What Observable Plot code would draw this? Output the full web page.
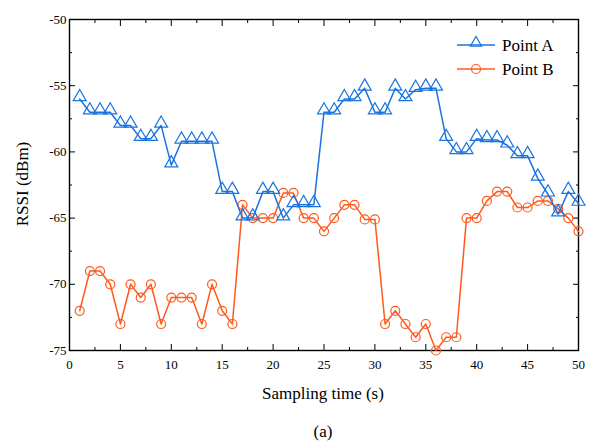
<!DOCTYPE html>
<html>
<head>
<meta charset="utf-8">
<script src="https://cdn.jsdelivr.net/npm/d3@7"></script>
<script src="https://cdn.jsdelivr.net/npm/@observablehq/plot@0.6"></script>
<style>
  html, body { margin: 0; padding: 0; background: #fff; }
  #chart { position: relative; width: 593px; height: 441px; }
  #chart svg text { font-family: 'Liberation Serif', 'Times New Roman', serif !important; }
</style>
</head>
<body>
<div id="chart"></div>
<script>
const seconds = d3.range(1, 51);
const pointA = [
  -56, -57, -57, -57, -58, -58, -59, -59, -58, -61,
  -59.2, -59.2, -59.2, -59.2, -63, -63, -65, -65, -63, -63,
  -65, -64, -64, -64, -57, -57, -56, -56, -55.2, -57,
  -57, -55.2, -56, -55.3, -55.2, -55.2, -59, -60, -60, -59,
  -59.1, -59.1, -59.5, -60.3, -60.3, -62, -63.2, -64.7, -63, -63.9
];
const pointB = [
  -72, -69, -69, -70, -73, -70, -71, -70, -73, -71,
  -71, -71, -73, -70, -72, -73, -64, -65, -65, -65,
  -63.1, -63.1, -65, -65, -66, -65, -64, -64, -65.1, -65.1,
  -73, -72, -73, -74, -73, -75, -74, -74, -65, -65,
  -63.7, -63, -63, -64.2, -64.2, -63.7, -63.7, -64.3, -65, -66
];
const seriesNames = ["Point A", "Point B"];
const seriesColors = ["#1a74e0", "#ff5a1c"];
const xMajor = d3.range(0, 51, 5);
const xMinor = d3.range(2.5, 50, 5);
const yMajor = d3.range(-75, -49, 5);
const yMinor = d3.range(-72.5, -50, 5);
const xTitle = "Sampling time (s)";
const yTitle = "RSSI (dBm)";
const caption = "(a)";

const data = [];
seconds.forEach((t, i) => {
  data.push({t, v: pointA[i], s: seriesNames[0]});
  data.push({t, v: pointB[i], s: seriesNames[1]});
});
const A = data.filter(d => d.s === seriesNames[0]);
const B = data.filter(d => d.s === seriesNames[1]);

const font = "'Liberation Serif', 'Times New Roman', serif";
const fmt = d => String(d);

const svg = Plot.plot({
  width: 593,
  height: 441,
  marginLeft: 69,
  marginRight: 15,
  marginTop: 19,
  marginBottom: 91,
  style: {fontFamily: font, fontSize: "13px", color: "#000", background: "#fff"},
  x: {domain: [0, 50]},
  y: {domain: [-75, -50]},
  marks: [
    Plot.axisX({ticks: xMajor, tickSize: -6, tickPadding: 15, fontSize: 13, tickFormat: fmt, label: null}),
    Plot.axisX({ticks: xMinor, tickSize: -3, tickFormat: () => "", label: null}),
    Plot.axisX({anchor: "top", ticks: xMajor, tickSize: -6, tickFormat: () => "", label: null}),
    Plot.axisX({anchor: "top", ticks: xMinor, tickSize: -3, tickFormat: () => "", label: null}),
    Plot.axisY({ticks: yMajor, tickSize: -6, tickPadding: 9, fontSize: 13, tickFormat: fmt, label: null}),
    Plot.axisY({ticks: yMinor, tickSize: -3, tickFormat: () => "", label: null}),
    Plot.axisY({anchor: "right", ticks: yMajor, tickSize: -6, tickFormat: () => "", label: null}),
    Plot.axisY({anchor: "right", ticks: yMinor, tickSize: -3, tickFormat: () => "", label: null}),
    Plot.frame({stroke: "#000", strokeWidth: 1.4}),
    Plot.line(B, {x: "t", y: "v", stroke: seriesColors[1], strokeWidth: 1.5}),
    Plot.dot(B, {x: "t", y: "v", symbol: "circle", r: 4.5, stroke: seriesColors[1], fill: "none", strokeWidth: 1.2}),
    Plot.line(A, {x: "t", y: "v", stroke: seriesColors[0], strokeWidth: 1.5}),
    Plot.dot(A, {x: "t", y: "v", symbol: "triangle", r: 4.8, stroke: seriesColors[0], fill: "none", strokeWidth: 1.2, dy: -2})
  ]
});

const s = d3.select(svg);
// force serif tick labels
s.selectAll("g[aria-label$='tick label'] text, g[aria-label$='tick label']")
  .style("font-family", font).style("font-size", "13px");

// legend, axis titles and caption drawn into the same svg
const leg = s.append("g").attr("font-family", font).attr("font-size", 17).attr("text-anchor", "start");
seriesNames.forEach((name, i) => {
  const y = 45 + i * 24;
  const g = leg.append("g");
  g.append("line").attr("x1", 457).attr("x2", 495).attr("y1", y).attr("y2", y)
    .attr("stroke", seriesColors[i]).attr("stroke-width", 1.5);
  if (i === 0) {
    g.append("path").attr("d", d3.symbol(d3.symbolTriangle, 55)()).attr("transform", `translate(476,${y - 2})`)
      .attr("fill", "none").attr("stroke", seriesColors[i]).attr("stroke-width", 1.2);
  } else {
    g.append("circle").attr("cx", 476).attr("cy", y).attr("r", 4.5)
      .attr("fill", "none").attr("stroke", seriesColors[i]).attr("stroke-width", 1.2);
  }
  g.append("text").attr("x", 502).attr("y", y).attr("dy", "0.35em").attr("fill", "#000").text(name);
});
const t = s.append("g").attr("font-family", font).attr("font-size", 17).attr("fill", "#000").attr("text-anchor", "middle");
t.append("text").attr("x", 323).attr("y", 393).attr("dy", "0.35em").text(xTitle);
t.append("text").attr("transform", "translate(22,184) rotate(-90)").attr("dy", "0.35em").text(yTitle);
t.append("text").attr("x", 323).attr("y", 431).attr("dy", "0.35em").text(caption);

document.getElementById("chart").appendChild(svg);
</script>
</body>
</html>
